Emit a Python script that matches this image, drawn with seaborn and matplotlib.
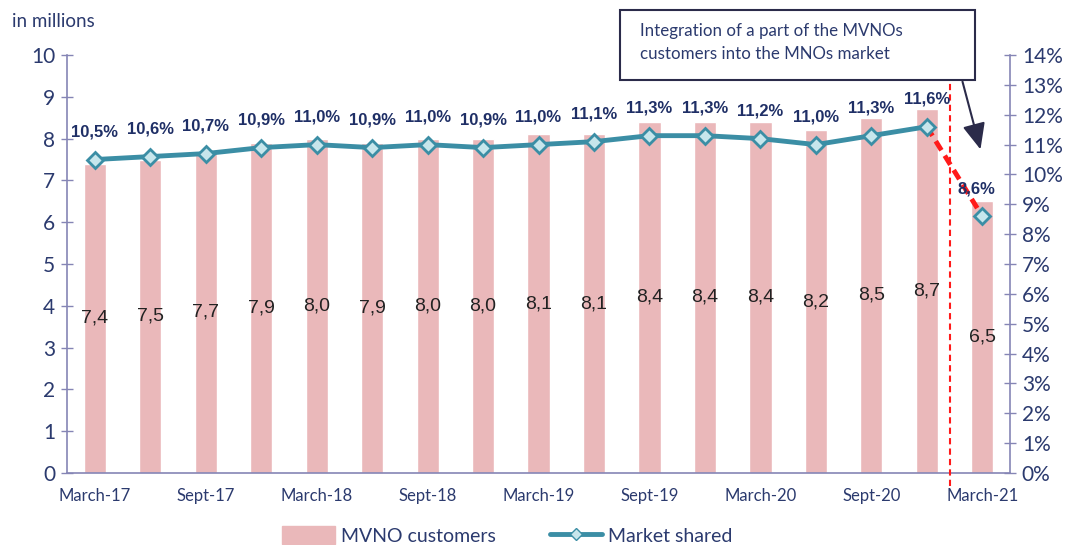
import pandas as pd
import seaborn as sns
import matplotlib.pyplot as plt
from matplotlib.patches import Patch, Rectangle
from matplotlib.lines import Line2D

# Data
quarters = ["March-17", "June-17", "Sept-17", "Dec-17", "March-18", "June-18", "Sept-18", "Dec-18",
            "March-19", "June-19", "Sept-19", "Dec-19", "March-20", "June-20", "Sept-20", "Dec-20",
            "March-21"]
customers = [7.4, 7.5, 7.7, 7.9, 8.0, 7.9, 8.0, 8.0, 8.1, 8.1, 8.4, 8.4, 8.4, 8.2, 8.5, 8.7, 6.5]
share = [10.5, 10.6, 10.7, 10.9, 11.0, 10.9, 11.0, 10.9, 11.0, 11.1, 11.3, 11.3, 11.2, 11.0, 11.3, 11.6, 8.6]

df = pd.DataFrame({"quarter": quarters, "customers": customers, "share": share})
df["pos"] = range(len(df))

navy = "#2b3a6e"
spine = "#8585b5"
bar_col = "#eab8ba"
line_col = "#3b8ea5"

sns.set_style("white")

fig = plt.figure(figsize=(10.66, 5.45), dpi=100)
ax = fig.add_axes([0.0629, 0.132, 0.8846, 0.767])

sns.barplot(data=df, x="pos", y="customers", color=bar_col, width=0.4,
            saturation=1, ax=ax, native_scale=True)

ax.set_xlim(-0.5, len(df) - 0.5)
ax.set_ylim(0, 10)
ax.set_yticks(range(0, 11))
ax.set_xlabel("")
ax.set_ylabel("")

# bar labels in the middle of each bar
for i, v in enumerate(customers):
    ax.text(i, v / 2, f"{v:.1f}".replace(".", ","), ha="center", va="center",
            fontsize=14, color="#222222", family="Liberation Sans")

# x ticks at the boundaries, labels every other quarter
ax.set_xticks([i - 0.5 for i in range(len(df) + 1)])
ax.set_xticklabels([])
ax.set_xticks(range(0, len(df), 2), minor=True)
ax.set_xticklabels(quarters[::2], minor=True, fontsize=12, color=navy, family="Lato")
ax.tick_params(axis="x", which="minor", length=0, pad=11)
ax.tick_params(axis="x", which="major", length=6, width=1, color=spine, direction="inout")
ax.tick_params(axis="y", length=9, width=1, color=spine, direction="inout",
               labelsize=15, labelcolor=navy, pad=4)
for lab in ax.get_yticklabels():
    lab.set_family("Lato")

for s in ["top", "right"]:
    ax.spines[s].set_visible(False)
for s in ["left", "bottom"]:
    ax.spines[s].set_color(spine)
    ax.spines[s].set_linewidth(1.2)

ax.text(-0.058, 1.08, "in millions", transform=ax.transAxes, fontsize=13.5,
        color=navy, family="Lato", ha="left", va="center")

# market share on the secondary axis
ax2 = ax.twinx()
main = df.iloc[:-1]
sns.lineplot(data=main, x="pos", y="share", color=line_col, linewidth=3.5, marker="D",
             markersize=8, markerfacecolor="#c7e6ec", markeredgecolor=line_col,
             markeredgewidth=2, ax=ax2, zorder=3)
last = df.iloc[-2:]
ax2.plot(last["pos"], last["share"], color="#ff1a1a", linestyle=(0, (2.2, 1.3)),
         linewidth=3.5, zorder=2)
ax2.plot(last["pos"].iloc[-1], last["share"].iloc[-1], marker="D", markersize=8,
         markerfacecolor="#c7e6ec", markeredgecolor=line_col, markeredgewidth=2,
         linestyle="none", zorder=4)

ax2.set_ylim(0, 14)
ax2.set_yticks(range(0, 15))
ax2.set_yticklabels([f"{i}%" for i in range(0, 15)])
ax2.set_xlabel("")
ax2.set_ylabel("")
ax2.set_xlim(-0.5, len(df) - 0.5)
ax2.tick_params(axis="y", length=9, width=1, color=spine, direction="inout",
                labelsize=15, labelcolor=navy, pad=4)
for lab in ax2.get_yticklabels():
    lab.set_family("Lato")
for s in ["top", "left", "bottom"]:
    ax2.spines[s].set_visible(False)
ax2.spines["right"].set_color(spine)
ax2.spines["right"].set_linewidth(1.2)

for i, v in enumerate(share):
    dx = -4 if i == len(share) - 1 else 0
    ax2.annotate(f"{v:.1f}%".replace(".", ","), (i, v), xytext=(dx, 20),
                 textcoords="offset points", ha="center", va="center",
                 fontsize=12, fontweight="bold", color="#1f2f66", family="Liberation Sans")

# separator and annotation
ax2.axvline(15.42, color="#ff1a1a", linestyle=(0, (3, 2)), linewidth=1.5,
            ymin=-0.03, ymax=0.965, clip_on=False)
ax2.annotate("", xy=(15.98, 10.75), xytext=(15.63, 13.2),
             arrowprops=dict(arrowstyle="-|>,head_length=0.8,head_width=0.35",
                             color="#2b2b4a", lw=1.5, mutation_scale=20))
fig.patches.append(Rectangle((0.5816, 0.853), 0.333, 0.1284, transform=fig.transFigure,
                             facecolor="white", edgecolor="#2b2b4a", lw=1.5, zorder=5))
fig.text(0.6004, 0.922,
         "Integration of a part of the MVNOs\ncustomers into the MNOs market",
         fontsize=12.2, color=navy, family="Lato", ha="left", va="center", linespacing=1.55,
         zorder=6)

handles = [Patch(facecolor=bar_col, edgecolor=bar_col),
           Line2D([0], [0], color=line_col, lw=3.5, marker="D", markersize=6,
                  markerfacecolor="#c7e6ec", markeredgecolor=line_col)]
fig.legend(handles, ["MVNO customers", "Market shared"], loc="center",
           bbox_to_anchor=(0.476, 0.018), ncol=2, frameon=False,
           handlelength=2.7, handleheight=1.1, handletextpad=0.3, columnspacing=2.8,
           labelcolor=navy, prop={"family": "Lato", "size": 14})

fig.savefig("out.png", dpi=100)
